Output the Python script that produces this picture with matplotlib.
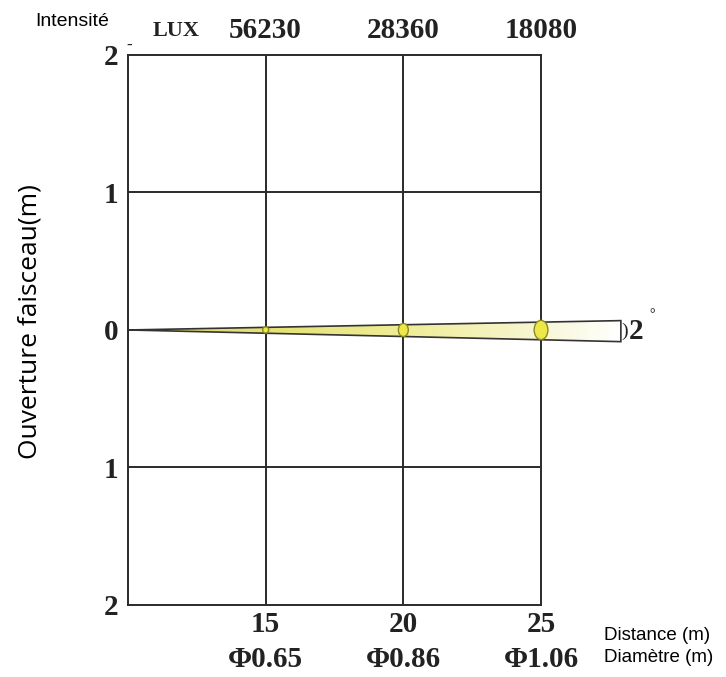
import matplotlib
matplotlib.use('Agg')
import matplotlib.pyplot as plt
import numpy as np
from matplotlib.patches import Polygon, Ellipse
from matplotlib.colors import LinearSegmentedColormap

# données
distances = [15, 20, 25]
lux = [56230, 28360, 18080]
diametres = [0.65, 0.86, 1.06]
y_ticks = [-2, -1, 0, 1, 2]
y_labels = ['2', '1', '0', '1', '2']
angle = 2

serif = ['Liberation Serif', 'DejaVu Serif']
sans = ['Liberation Sans', 'DejaVu Sans']
ink = '#222222'

fig = plt.figure(figsize=(7.26, 6.77), dpi=100)
ax = fig.add_axes([0.1763, 0.1064, 0.5689, 0.8124])

for d in distances[:-1]:
    ax.axvline(d, color='#2a2a2a', lw=1.4, zorder=1)
for y in y_ticks[1:-1]:
    ax.axhline(y, color='#2a2a2a', lw=1.4, zorder=1)
for s in ax.spines.values():
    s.set_color('#2a2a2a')
    s.set_linewidth(1.4)

ax.set_xticks([])
ax.set_yticks(y_ticks)
ax.set_yticklabels(y_labels, fontfamily=serif, fontweight='bold', fontsize=21, color=ink)
ax.tick_params(axis='y', length=0, pad=7)

# faisceau
x_end = 27.9
beam = [(10, 0.0), (x_end, 0.068), (x_end, -0.085)]
grad = np.linspace(0, 1, 256).reshape(1, -1)
cmap = LinearSegmentedColormap.from_list(
    'beam', [(0, '#dcd868'), (0.35, '#e8e47c'), (0.6, '#f0ee9e'),
             (0.8, '#f6f5cc'), (1, '#ffffff')])
im = ax.imshow(grad, extent=[10, x_end, -0.1, 0.1], aspect='auto', cmap=cmap, zorder=2)
poly = Polygon(beam, closed=True, facecolor='none', edgecolor='#333333', lw=1.2,
               zorder=3, clip_on=False)
ax.add_patch(poly)
im.set_clip_on(True)
im.set_clip_box(fig.bbox)
im.set_clip_path(poly)
ax.set_xlim(10, 25)
ax.set_ylim(-2, 2)

# ellipses aux distances
widths = [0.22, 0.36, 0.5]
heights = [0.045, 0.095, 0.14]
for d, w, h in zip(distances, widths, heights):
    ax.add_patch(Ellipse((d, 0), w, h, facecolor='#ece84a', edgecolor='#8a8a20',
                         lw=1.0, zorder=4, clip_on=False))

ax.text(x_end + 0.02, -0.01, ')', fontfamily=serif, fontsize=14,
        va='center', ha='left', color=ink, clip_on=False)
ax.text(x_end + 0.3, -0.01, str(angle), fontfamily=serif, fontweight='bold', fontsize=21,
        va='center', ha='left', color=ink, clip_on=False)
ax.text(x_end + 1.05, 0.11, '°', fontfamily=serif, fontweight='bold', fontsize=10,
        va='center', ha='left', color=ink, clip_on=False)

# étiquettes du haut
ax.text(11.75, 2.175, 'LUX', fontfamily=serif, fontweight='bold', fontsize=16,
        ha='center', va='center', color=ink, clip_on=False)
for d, l in zip(distances, lux):
    ax.text(d, 2.175, str(l), fontfamily=serif, fontweight='bold', fontsize=21,
            ha='center', va='center', color=ink, clip_on=False)
ax.text(10.05, 2.07, '-', fontfamily=serif, fontweight='bold', fontsize=12,
        ha='center', va='center', color=ink, clip_on=False)

# étiquettes du bas
for d, dia in zip(distances, diametres):
    ax.text(d, -2.14, str(d), fontfamily=serif, fontweight='bold', fontsize=21,
            ha='center', va='center', color=ink, clip_on=False)
    ax.text(d, -2.395, 'Φ%.2f' % dia, fontfamily=serif, fontweight='bold', fontsize=21,
            ha='center', va='center', color=ink, clip_on=False)

fig.text(0.832, 0.061, 'Distance (m)', fontfamily=sans, fontsize=13.5, ha='left', va='center')
fig.text(0.832, 0.029, 'Diamètre (m)', fontfamily=sans, fontsize=13.5, ha='left', va='center')
fig.text(0.048, 0.968, 'Intensité', fontfamily=sans, fontsize=14, ha='left', va='center')
fig.text(0.042, 0.525, 'Ouverture faisceau(m)', fontfamily=['Open Sans', 'DejaVu Sans'],
         fontsize=19, rotation=90, ha='center', va='center')

fig.savefig('out.png', dpi=100)
